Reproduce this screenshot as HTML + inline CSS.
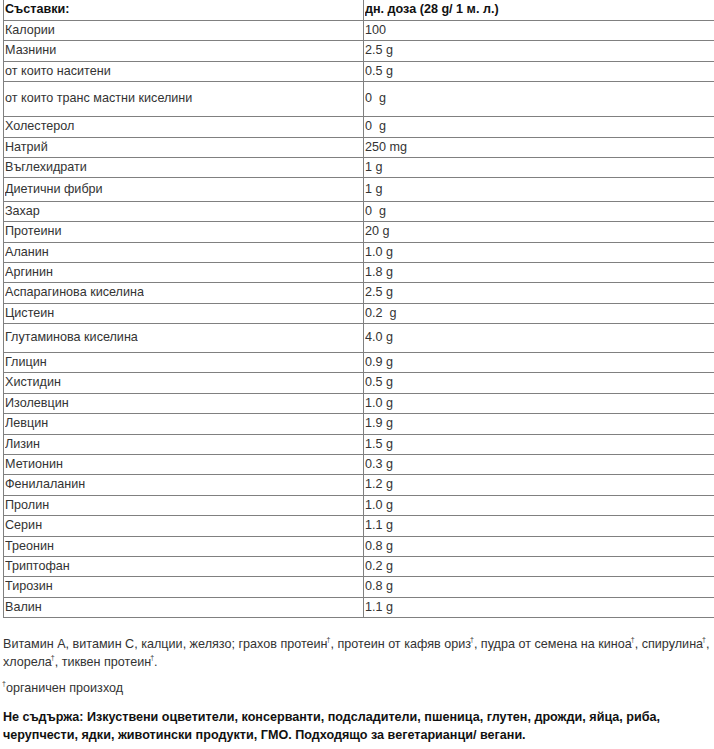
<!DOCTYPE html>
<html><head><meta charset="utf-8"><style>
html,body{margin:0;padding:0;background:#fff;width:714px;height:749px;overflow:hidden;position:relative}
body{font-family:"Liberation Sans",sans-serif;font-size:12.6px;color:#333}
b{color:#111}
.v{position:absolute;width:1px;background:#808080}
.h{position:absolute;left:3px;width:711px;height:1px;background:#808080}
.t{position:absolute;white-space:nowrap;line-height:15px;transform:scaleY(1.06);transform-origin:0 11px}
.c{font-size:12.6px}
sup{font-size:7px;line-height:0;vertical-align:0;position:relative;top:-6px;margin-left:-1px}
</style></head><body>
<div class="v" style="left:3px;top:0;height:618px"></div>
<div class="v" style="left:363px;top:0;height:618px"></div>
<div class="h" style="top:20px"></div>
<div class="h" style="top:40px"></div>
<div class="h" style="top:61px"></div>
<div class="h" style="top:81px"></div>
<div class="h" style="top:116px"></div>
<div class="h" style="top:137px"></div>
<div class="h" style="top:157px"></div>
<div class="h" style="top:177px"></div>
<div class="h" style="top:201px"></div>
<div class="h" style="top:221px"></div>
<div class="h" style="top:242px"></div>
<div class="h" style="top:262px"></div>
<div class="h" style="top:282px"></div>
<div class="h" style="top:303px"></div>
<div class="h" style="top:323px"></div>
<div class="h" style="top:352px"></div>
<div class="h" style="top:372px"></div>
<div class="h" style="top:393px"></div>
<div class="h" style="top:413px"></div>
<div class="h" style="top:434px"></div>
<div class="h" style="top:454px"></div>
<div class="h" style="top:474px"></div>
<div class="h" style="top:495px"></div>
<div class="h" style="top:515px"></div>
<div class="h" style="top:536px"></div>
<div class="h" style="top:556px"></div>
<div class="h" style="top:576px"></div>
<div class="h" style="top:597px"></div>
<div class="h" style="top:617px"></div>
<div class="t c" style="left:5px;top:2px"><b>Съставки:</b></div>
<div class="t c" style="left:365px;top:2px"><b>дн. доза (28 g/ 1 м. л.)</b></div>
<div class="t c" style="left:5px;top:23px">Калории</div>
<div class="t c" style="left:365px;top:23px">100</div>
<div class="t c" style="left:5px;top:43px">Мазнини</div>
<div class="t c" style="left:365px;top:43px">2.5 g</div>
<div class="t c" style="left:5px;top:64px">от които наситени</div>
<div class="t c" style="left:365px;top:64px">0.5 g</div>
<div class="t c" style="left:5px;top:91px">от които транс мастни киселини</div>
<div class="t c" style="left:365px;top:91px">0&nbsp; g</div>
<div class="t c" style="left:5px;top:119px">Холестерол</div>
<div class="t c" style="left:365px;top:119px">0&nbsp; g</div>
<div class="t c" style="left:5px;top:140px">Натрий</div>
<div class="t c" style="left:365px;top:140px">250 mg</div>
<div class="t c" style="left:5px;top:160px">Въглехидрати</div>
<div class="t c" style="left:365px;top:160px">1 g</div>
<div class="t c" style="left:5px;top:182px">Диетични фибри</div>
<div class="t c" style="left:365px;top:182px">1 g</div>
<div class="t c" style="left:5px;top:204px">Захар</div>
<div class="t c" style="left:365px;top:204px">0&nbsp; g</div>
<div class="t c" style="left:5px;top:224px">Протеини</div>
<div class="t c" style="left:365px;top:224px">20 g</div>
<div class="t c" style="left:5px;top:245px">Аланин</div>
<div class="t c" style="left:365px;top:245px">1.0 g</div>
<div class="t c" style="left:5px;top:265px">Аргинин</div>
<div class="t c" style="left:365px;top:265px">1.8 g</div>
<div class="t c" style="left:5px;top:285px">Аспарагинова киселина</div>
<div class="t c" style="left:365px;top:285px">2.5 g</div>
<div class="t c" style="left:5px;top:306px">Цистеин</div>
<div class="t c" style="left:365px;top:306px">0.2&nbsp; g</div>
<div class="t c" style="left:5px;top:330px">Глутаминова киселина</div>
<div class="t c" style="left:365px;top:330px">4.0 g</div>
<div class="t c" style="left:5px;top:355px">Глицин</div>
<div class="t c" style="left:365px;top:355px">0.9 g</div>
<div class="t c" style="left:5px;top:375px">Хистидин</div>
<div class="t c" style="left:365px;top:375px">0.5 g</div>
<div class="t c" style="left:5px;top:396px">Изолевцин</div>
<div class="t c" style="left:365px;top:396px">1.0 g</div>
<div class="t c" style="left:5px;top:416px">Левцин</div>
<div class="t c" style="left:365px;top:416px">1.9 g</div>
<div class="t c" style="left:5px;top:437px">Лизин</div>
<div class="t c" style="left:365px;top:437px">1.5 g</div>
<div class="t c" style="left:5px;top:457px">Метионин</div>
<div class="t c" style="left:365px;top:457px">0.3 g</div>
<div class="t c" style="left:5px;top:477px">Фенилаланин</div>
<div class="t c" style="left:365px;top:477px">1.2 g</div>
<div class="t c" style="left:5px;top:498px">Пролин</div>
<div class="t c" style="left:365px;top:498px">1.0 g</div>
<div class="t c" style="left:5px;top:518px">Серин</div>
<div class="t c" style="left:365px;top:518px">1.1 g</div>
<div class="t c" style="left:5px;top:539px">Треонин</div>
<div class="t c" style="left:365px;top:539px">0.8 g</div>
<div class="t c" style="left:5px;top:559px">Триптофан</div>
<div class="t c" style="left:365px;top:559px">0.2 g</div>
<div class="t c" style="left:5px;top:579px">Тирозин</div>
<div class="t c" style="left:365px;top:579px">0.8 g</div>
<div class="t c" style="left:5px;top:600px">Валин</div>
<div class="t c" style="left:365px;top:600px">1.1 g</div>
<div class="t" style="left:3px;top:637px;">Витамин А, витамин С, калции, желязо; грахов протеин<sup>†</sup>, протеин от кафяв ориз<sup>†</sup>, пудра от семена на киноа<sup>†</sup>, спирулина<sup>†</sup>,</div>
<div class="t" style="left:3px;top:655px;">хлорела<sup>†</sup>, тиквен протеин<sup>†</sup>.</div>
<div class="t" style="left:3px;top:681px;"><sup>†</sup>органичен произход</div>
<div class="t" style="left:3px;top:710px;font-weight:bold;font-size:12.6px;color:#111;">Не съдържа: Изкуствени оцветители, консерванти, подсладители, пшеница, глутен, дрожди, яйца, риба,</div>
<div class="t" style="left:3px;top:728px;font-weight:bold;font-size:12.6px;color:#111;">черупчести, ядки, животински продукти, ГМО. Подходящо за вегетарианци/ вегани.</div>
</body></html>
